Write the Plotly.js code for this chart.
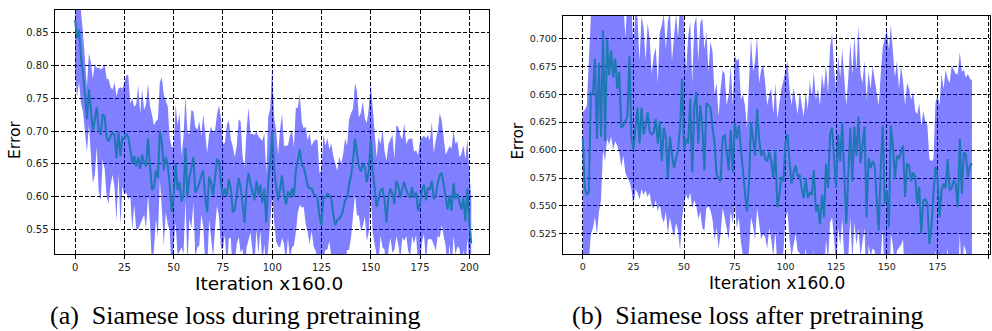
<!DOCTYPE html>
<html>
<head>
<meta charset="utf-8">
<script src="https://cdn.plot.ly/plotly-3.0.1.min.js"></script>
<style>html,body{margin:0;padding:0;background:#fff;}#chart{width:992px;height:331px;}</style>
</head>
<body>
<div id="chart"></div>
<script>
// ---- (a) Siamese loss during pretraining ----
const meanA = [
0.870,0.842,0.855,0.812,0.790,0.752,0.718,0.764,0.735,0.700,
0.718,0.736,0.702,0.694,0.726,0.722,0.690,0.684,0.692,0.698,
0.694,0.658,0.700,0.662,0.690,0.688,0.696,0.690,0.672,0.650,
0.662,0.646,0.660,0.642,0.664,0.652,0.646,0.688,0.648,0.610,
0.614,0.640,0.628,0.700,0.682,0.640,0.660,0.648,0.618,0.576,
0.600,0.650,0.610,0.622,0.592,0.602,0.674,0.598,0.630,0.642,
0.660,0.606,0.612,0.620,0.632,0.640,0.598,0.576,0.630,0.622,
0.602,0.626,0.656,0.654,0.620,0.600,0.612,0.600,0.626,0.612,
0.576,0.580,0.602,0.628,0.614,0.590,0.560,0.612,0.636,0.620,
0.606,0.594,0.624,0.602,0.618,0.590,0.612,0.560,0.622,0.650,
0.700,0.640,0.616,0.594,0.612,0.632,0.602,0.588,0.608,0.598,
0.612,0.600,0.640,0.656,0.672,0.648,0.644,0.632,0.616,0.612,
0.612,0.604,0.602,0.596,0.570,0.556,0.600,0.598,0.604,0.602,
0.596,0.572,0.556,0.564,0.566,0.570,0.580,0.594,0.598,0.618,
0.632,0.654,0.688,0.666,0.646,0.638,0.650,0.644,0.622,0.640,
0.688,0.640,0.606,0.584,0.596,0.610,0.612,0.594,0.560,0.600,
0.612,0.604,0.588,0.624,0.616,0.598,0.612,0.622,0.610,0.602,
0.598,0.614,0.598,0.606,0.578,0.590,0.610,0.618,0.594,0.614,
0.610,0.624,0.596,0.602,0.620,0.632,0.636,0.616,0.594,0.580,
0.602,0.578,0.620,0.596,0.604,0.590,0.580,0.598,0.562,0.612,
0.560,0.528];
const spreadA = [
0.085,0.090,0.080,0.070,0.060,0.060,0.050,0.055,0.070,0.080,
0.085,0.060,0.095,0.100,0.070,0.080,0.090,0.095,0.075,0.065,
0.080,0.095,0.065,0.105,0.075,0.085,0.090,0.095,0.070,0.100,
0.075,0.095,0.110,0.085,0.100,0.080,0.095,0.085,0.090,0.115,
0.095,0.075,0.090,0.075,0.100,0.115,0.085,0.090,0.070,0.100,
0.075,0.090,0.100,0.105,0.070,0.090,0.080,0.100,0.065,0.090,
0.070,0.100,0.090,0.095,0.060,0.085,0.100,0.090,0.065,0.085,
0.095,0.075,0.070,0.085,0.100,0.080,0.070,0.110,0.090,0.075,
0.100,0.080,0.075,0.090,0.100,0.070,0.085,0.090,0.100,0.075,
0.090,0.100,0.075,0.090,0.070,0.095,0.085,0.075,0.100,0.085,
0.100,0.080,0.085,0.070,0.090,0.095,0.075,0.090,0.070,0.095,
0.090,0.075,0.095,0.080,0.085,0.065,0.060,0.075,0.070,0.085,
0.065,0.080,0.085,0.090,0.065,0.085,0.095,0.080,0.085,0.070,
0.085,0.090,0.095,0.075,0.095,0.080,0.085,0.095,0.080,0.100,
0.095,0.080,0.085,0.095,0.075,0.090,0.095,0.075,0.090,0.095,
0.085,0.095,0.080,0.075,0.095,0.070,0.090,0.075,0.095,0.080,
0.075,0.090,0.070,0.085,0.090,0.095,0.075,0.090,0.070,0.085,
0.090,0.075,0.070,0.065,0.085,0.095,0.080,0.075,0.095,0.080,
0.075,0.090,0.070,0.085,0.080,0.095,0.080,0.075,0.070,0.090,
0.075,0.095,0.080,0.085,0.080,0.070,0.085,0.080,0.095,0.075,
0.085,0.070];

// ---- (b) Siamese loss after pretraining ----
const meanB = [
0.611,0.566,0.560,0.562,0.651,0.650,0.682,0.610,0.678,0.612,
0.707,0.608,0.699,0.667,0.689,0.665,0.682,0.655,0.670,0.620,
0.622,0.626,0.630,0.684,0.612,0.600,0.620,0.638,0.606,0.638,
0.614,0.622,0.634,0.616,0.614,0.616,0.628,0.606,0.626,0.590,
0.620,0.612,0.575,0.612,0.596,0.584,0.592,0.600,0.620,0.664,
0.600,0.610,0.606,0.646,0.580,0.638,0.652,0.606,0.640,0.620,
0.582,0.642,0.640,0.638,0.620,0.607,0.578,0.575,0.572,0.610,
0.614,0.598,0.582,0.618,0.580,0.625,0.610,0.622,0.600,0.580,
0.562,0.545,0.570,0.625,0.610,0.595,0.637,0.610,0.595,0.600,
0.592,0.590,0.598,0.590,0.575,0.600,0.549,0.560,0.576,0.572,
0.607,0.614,0.590,0.570,0.580,0.586,0.576,0.578,0.566,0.557,
0.575,0.557,0.562,0.560,0.582,0.545,0.550,0.534,0.560,0.540,
0.588,0.566,0.614,0.620,0.592,0.566,0.614,0.590,0.625,0.580,
0.534,0.578,0.620,0.572,0.621,0.595,0.630,0.588,0.605,0.621,
0.540,0.593,0.584,0.590,0.586,0.560,0.528,0.584,0.622,0.552,
0.564,0.531,0.622,0.604,0.574,0.595,0.592,0.598,0.604,0.558,
0.588,0.586,0.572,0.580,0.576,0.552,0.567,0.525,0.555,0.556,
0.552,0.516,0.531,0.561,0.585,0.576,0.540,0.564,0.570,0.566,
0.592,0.564,0.566,0.573,0.569,0.549,0.610,0.561,0.598,0.596,
0.576,0.586,0.588];
const upperB = [
0.634,0.636,0.640,0.700,0.745,0.760,0.780,0.740,0.770,0.745,
0.790,0.740,0.785,0.760,0.775,0.750,0.765,0.740,0.755,0.725,
0.735,0.700,0.735,0.770,0.730,0.690,0.728,0.718,0.680,0.720,
0.710,0.680,0.714,0.700,0.668,0.684,0.692,0.660,0.705,0.712,
0.722,0.690,0.715,0.724,0.680,0.705,0.722,0.700,0.735,0.760,
0.706,0.670,0.702,0.715,0.660,0.712,0.720,0.680,0.714,0.718,
0.690,0.706,0.670,0.697,0.688,0.650,0.660,0.630,0.655,0.672,
0.668,0.640,0.650,0.676,0.640,0.685,0.680,0.682,0.645,0.650,
0.640,0.620,0.660,0.700,0.670,0.680,0.702,0.660,0.672,0.676,
0.660,0.640,0.650,0.655,0.632,0.660,0.628,0.640,0.655,0.662,
0.672,0.680,0.655,0.640,0.656,0.645,0.632,0.652,0.640,0.630,
0.652,0.636,0.662,0.648,0.670,0.645,0.655,0.640,0.668,0.655,
0.676,0.650,0.692,0.705,0.672,0.655,0.684,0.665,0.690,0.668,
0.640,0.665,0.696,0.668,0.702,0.672,0.712,0.668,0.660,0.680,
0.645,0.670,0.655,0.675,0.662,0.650,0.640,0.668,0.692,0.700,
0.708,0.690,0.712,0.688,0.665,0.680,0.655,0.675,0.662,0.640,
0.660,0.655,0.645,0.652,0.635,0.632,0.642,0.622,0.635,0.626,
0.622,0.592,0.590,0.592,0.642,0.650,0.640,0.668,0.655,0.672,
0.664,0.660,0.676,0.672,0.668,0.668,0.688,0.670,0.672,0.665,
0.668,0.664,0.662];
const lowerB = [
0.500,0.490,0.495,0.500,0.525,0.530,0.540,0.525,0.545,0.555,
0.600,0.590,0.610,0.605,0.612,0.600,0.608,0.604,0.598,0.585,
0.595,0.580,0.575,0.572,0.565,0.550,0.565,0.562,0.556,0.565,
0.560,0.564,0.558,0.562,0.550,0.548,0.555,0.545,0.552,0.540,
0.535,0.545,0.525,0.540,0.530,0.522,0.535,0.528,0.510,0.540,
0.552,0.560,0.555,0.562,0.548,0.555,0.550,0.538,0.545,0.530,
0.528,0.548,0.550,0.546,0.538,0.520,0.530,0.512,0.525,0.548,
0.540,0.530,0.520,0.545,0.535,0.552,0.530,0.540,0.518,0.505,
0.500,0.490,0.510,0.540,0.532,0.520,0.548,0.535,0.520,0.525,
0.522,0.512,0.530,0.520,0.505,0.528,0.495,0.490,0.500,0.510,
0.540,0.545,0.520,0.505,0.515,0.525,0.510,0.508,0.500,0.495,
0.512,0.495,0.500,0.490,0.510,0.480,0.490,0.470,0.495,0.485,
0.520,0.500,0.535,0.540,0.520,0.495,0.530,0.515,0.538,0.505,
0.470,0.505,0.540,0.500,0.535,0.515,0.530,0.505,0.520,0.530,
0.470,0.515,0.505,0.512,0.510,0.490,0.460,0.505,0.530,0.480,
0.490,0.460,0.525,0.515,0.495,0.510,0.512,0.515,0.520,0.480,
0.505,0.508,0.495,0.500,0.498,0.475,0.490,0.450,0.480,0.482,
0.478,0.450,0.460,0.490,0.510,0.500,0.465,0.490,0.495,0.492,
0.512,0.490,0.492,0.498,0.494,0.475,0.525,0.485,0.515,0.510,
0.495,0.500,0.505];

const xTitle = "Iteration x160.0";
const yTitle = "Error";
const captionA = "(a)\u00a0\u00a0Siamese loss during pretraining";
const captionB = "(b)\u00a0\u00a0Siamese loss after pretraining";

const xA = meanA.map((_, i) => i);
const xB = meanB.map((_, i) => i);
const upperA = meanA.map((m, i) => m + spreadA[i]);
const lowerA = meanA.map((m, i) => m - spreadA[i]);

const FILL = 'rgba(0,0,255,0.5)';
const LINE = '#1f77b4';

function band(x, lo, hi, xa, ya) {
  return [
    {x: x, y: lo, xaxis: xa, yaxis: ya, mode: 'lines', line: {width: 0, color: FILL}, hoverinfo: 'skip', showlegend: false},
    {x: x, y: hi, xaxis: xa, yaxis: ya, mode: 'lines', line: {width: 0, color: FILL}, fill: 'tonexty', fillcolor: FILL, hoverinfo: 'skip', showlegend: false}
  ];
}

const traces = [
  ...band(xA, lowerA, upperA, 'x', 'y'),
  {x: xA, y: meanA, xaxis: 'x', yaxis: 'y', mode: 'lines', line: {color: LINE, width: 2}, showlegend: false},
  ...band(xB, lowerB, upperB, 'x2', 'y2'),
  {x: xB, y: meanB, xaxis: 'x2', yaxis: 'y2', mode: 'lines', line: {color: LINE, width: 2}, showlegend: false}
];

const W = 992, H = 331;
const px = v => v / W;
const py = v => (H - v) / H;

const axisCommon = {
  showgrid: true, gridcolor: '#000', gridwidth: 1, griddash: '4px,2px',
  showline: true, mirror: true, linecolor: '#000', linewidth: 1,
  ticks: 'outside', ticklen: 3.5, tickcolor: '#000', tickwidth: 1,
  zeroline: false, fixedrange: true,
  tickfont: {family: 'DejaVu Sans', size: 10, color: '#222'}
};

const layout = {
  width: W, height: H,
  margin: {l: 0, r: 0, t: 0, b: 0},
  paper_bgcolor: '#fff', plot_bgcolor: '#fff',
  showlegend: false,
  xaxis: Object.assign({}, axisCommon, {domain: [px(55), px(489)], range: [-10.2, 210], tick0: 0, dtick: 25, anchor: 'y'}),
  yaxis: Object.assign({}, axisCommon, {domain: [py(254), py(10)], range: [0.512, 0.885], tick0: 0.5, dtick: 0.05, tickformat: '.2f', anchor: 'x'}),
  xaxis2: Object.assign({}, axisCommon, {domain: [px(563.3), px(990)], range: [-9.6, 200.9], tick0: 0, dtick: 25, anchor: 'y2', tickfont: {family: 'DejaVu Sans', size: 9.5, color: '#222'}}),
  yaxis2: Object.assign({}, axisCommon, {domain: [py(254), py(16)], range: [0.507, 0.720], tick0: 0.5, dtick: 0.025, tickformat: '.3f', anchor: 'x2', tickfont: {family: 'DejaVu Sans', size: 9.5, color: '#222'}}),
  annotations: [
    {text: yTitle, xref: 'paper', yref: 'paper', x: px(15), y: py(140), xanchor: 'center', yanchor: 'middle', textangle: -90, showarrow: false, font: {family: 'DejaVu Sans', size: 15.5, color: '#000'}},
    {text: yTitle, xref: 'paper', yref: 'paper', x: px(517.5), y: py(141), xanchor: 'center', yanchor: 'middle', textangle: -90, showarrow: false, font: {family: 'DejaVu Sans', size: 15, color: '#000'}},
    {text: xTitle, xref: 'paper', yref: 'paper', x: px(269), y: py(283), xanchor: 'center', yanchor: 'middle', showarrow: false, font: {family: 'DejaVu Sans', size: 18.5, color: '#000'}},
    {text: xTitle, xref: 'paper', yref: 'paper', x: px(777), y: py(283), xanchor: 'center', yanchor: 'middle', showarrow: false, font: {family: 'DejaVu Sans', size: 17, color: '#000'}},
    {text: captionA, xref: 'paper', yref: 'paper', x: px(235), y: 0, xanchor: 'center', yanchor: 'bottom', showarrow: false, borderpad: 0, font: {family: 'Liberation Serif', size: 26, color: '#000'}},
    {text: captionB, xref: 'paper', yref: 'paper', x: px(748), y: 0, xanchor: 'center', yanchor: 'bottom', showarrow: false, borderpad: 0, font: {family: 'Liberation Serif', size: 26, color: '#000'}}
  ]
};

Plotly.newPlot('chart', traces, layout, {staticPlot: true, displayModeBar: false});
</script>
</body>
</html>
